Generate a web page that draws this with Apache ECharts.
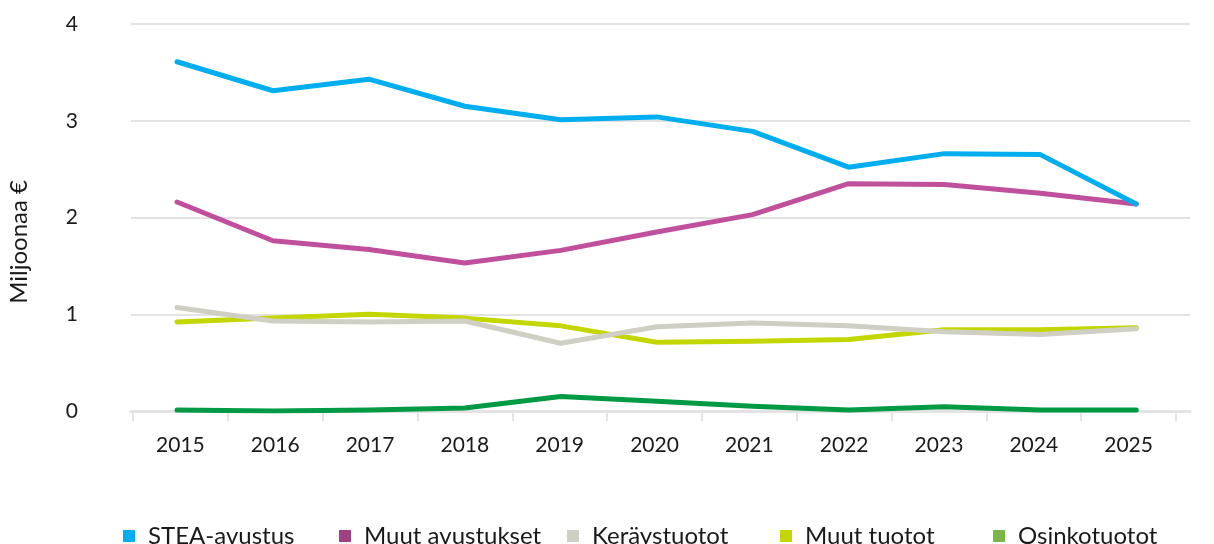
<!DOCTYPE html>
<html>
<head>
<meta charset="utf-8">
<script src="https://cdn.jsdelivr.net/npm/echarts@6/dist/echarts.min.js"></script>
<style>html,body{margin:0;padding:0;background:#fff}#c{width:1214px;height:544px}</style>
</head>
<body>
<div id="c"></div>
<script>
const years = [2015, 2016, 2017, 2018, 2019, 2020, 2021, 2022, 2023, 2024, 2025];
const yTicks = [0, 1, 2, 3, 4];
const seriesNames = ['STEA-avustus', 'Muut avustukset', 'Keräystuotot', 'Muut tuotot', 'Osinkotuotot'];
const steaAvustus = [3.61, 3.31, 3.43, 3.15, 3.01, 3.04, 2.89, 2.52, 2.66, 2.65, 2.14];
const muutAvustukset = [2.16, 1.76, 1.67, 1.53, 1.66, 1.85, 2.03, 2.35, 2.34, 2.25, 2.14];
const keraystuotot = [1.07, 0.93, 0.92, 0.93, 0.70, 0.87, 0.91, 0.88, 0.82, 0.79, 0.85];
const muutTuotot = [0.92, 0.96, 1.00, 0.96, 0.88, 0.71, 0.72, 0.74, 0.84, 0.84, 0.86];
const osinkotuotot = [0.01, 0.00, 0.01, 0.03, 0.15, 0.10, 0.05, 0.01, 0.045, 0.01, 0.01];

const lineColors = ['#00aeef', '#c0509c', '#cfcfc4', '#c4d600', '#009a44'];
const legendColors = ['#00aeef', '#9f3f84', '#cfcfc4', '#c4d600', '#7ab648'];
const legendLeft = [118, 334, 562, 775, 988];
const allValues = [steaAvustus, muutAvustukset, keraystuotot, muutTuotot, osinkotuotot];

const font = 'Lato, "Noto Sans", sans-serif';
const chart = echarts.init(document.getElementById('c'), null, {renderer: 'canvas'});

const legends = seriesNames.map((n, i) => ({
  data: [{name: n, itemStyle: {color: legendColors[i]}}],
  left: legendLeft[i],
  top: 519,
  icon: 'rect',
  itemWidth: 12,
  itemHeight: 12,
  selectedMode: false,
  textStyle: {fontFamily: font, fontSize: 24, color: '#1a1a1a', padding: [0, 0, 0, 8]}
}));

const option = {
  animation: false,
  legend: legends,
  grid: [
    {left: 131, right: 24, top: 24, bottom: 133},
    {left: 133, right: 38, top: 24, bottom: 133}
  ],
  xAxis: [{
    gridIndex: 0,
    type: 'value',
    min: 2014.52,
    max: 2025.56,
    axisLine: {show: true, onZero: false, lineStyle: {color: '#e3e3e3', width: 3}},
    axisTick: {show: false},
    axisLabel: {show: false},
    splitLine: {show: false}
  }, {
    gridIndex: 1,
    type: 'category',
    data: years.map(String),
    boundaryGap: true,
    axisLine: {show: false},
    axisTick: {show: true, length: 10, lineStyle: {color: '#e3e3e3', width: 2}},
    axisLabel: {fontFamily: font, fontSize: 21, color: '#1a1a1a', margin: 24},
    splitLine: {show: false}
  }],
  yAxis: [{
    gridIndex: 0,
    type: 'value',
    min: yTicks[0],
    max: yTicks[yTicks.length - 1],
    interval: 1,
    axisLine: {show: false},
    axisTick: {show: false},
    axisLabel: {fontFamily: font, fontSize: 21, color: '#1a1a1a', margin: 53},
    splitLine: {lineStyle: {color: '#e3e3e3', width: 2}}
  }, {
    gridIndex: 1,
    type: 'value',
    min: yTicks[0],
    max: yTicks[yTicks.length - 1],
    show: false
  }],
  graphic: [{
    type: 'text',
    left: 7,
    top: 180,
    rotation: Math.PI / 2,
    style: {text: 'Miljoonaa €', fontFamily: font, fontSize: 24, fill: '#1a1a1a'}
  }],
  series: seriesNames.map((n, i) => ({
    name: n,
    type: 'line',
    xAxisIndex: 0,
    yAxisIndex: 0,
    data: years.map((y, k) => [y, allValues[i][k]]),
    showSymbol: false,
    symbol: 'none',
    lineStyle: {color: lineColors[i], width: 5, cap: 'round', join: 'round'},
    itemStyle: {color: lineColors[i]},
    z: 10 - i
  }))
};
chart.setOption(option);
</script>
</body>
</html>
